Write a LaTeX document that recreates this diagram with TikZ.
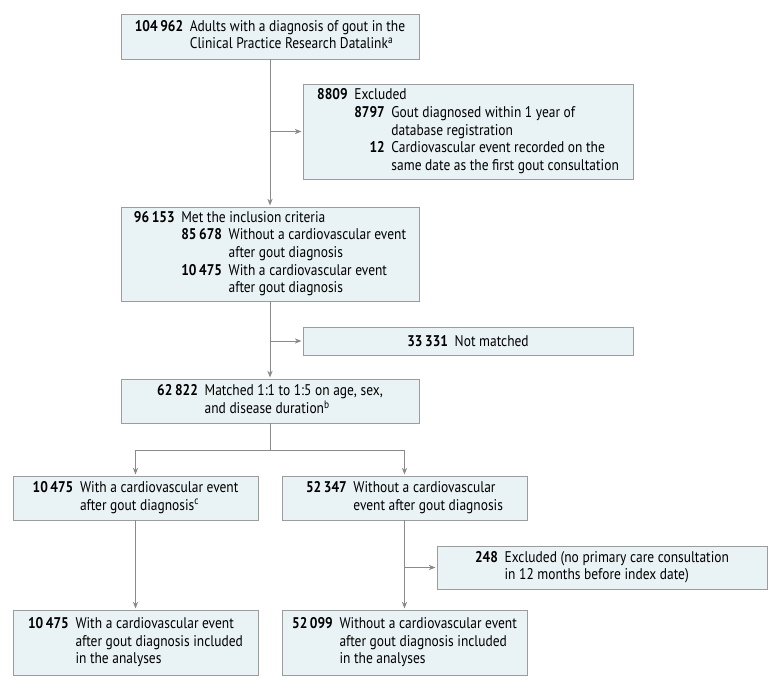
\documentclass[tikz,border=0pt]{standalone}
\usepackage{fontspec}
\setmainfont{PT Sans}[FakeStretch=0.87]
\usepackage{tikz}
\usetikzlibrary{arrows.meta}
\definecolor{boxfill}{HTML}{E9F2F4}
\definecolor{boxline}{HTML}{9C9C9C}
\definecolor{flowline}{HTML}{8A8A8A}
\newcommand{\nb}[1]{\textbf{#1}}
\newcommand{\gap}{@{\hspace{5pt}}}

\begin{document}
\begin{tikzpicture}[x=0.75pt, y=-0.75pt,
  every node/.style = {shape=rectangle,
    draw=boxline, fill=boxfill, align=center, inner sep=0pt,
    font=\fontsize{11.6}{13.2}\selectfont},
  mainbox/.style = {minimum width=223.5pt},
  sidebox/.style = {minimum width=247.5pt},
  armbox/.style = {minimum width=183.75pt},
  flow/.style = {draw=flowline, line width=0.75pt},
  flowarrow/.style = {flow, -{Stealth[length=5pt,width=4pt]}, shorten >=1pt}]
  \useasboundingbox (0,0) rectangle (780,688);

  % main column
  \node[mainbox, minimum height=33.75pt] (adults) at (270,36.5)
    {\begin{tabular}{@{}r\gap l@{}}
      \nb{104\,962} & Adults with a diagnosis of gout in the\\
      & Clinical Practice Research Datalink\textsuperscript{a}
    \end{tabular}};
  \node[sidebox, minimum height=71.25pt] (excl) at (468,131.5)
    {\begin{tabular}{@{}r\gap r\gap l@{}}
      \nb{8809} & \multicolumn{2}{@{}l@{}}{Excluded}\\
      & \nb{8797} & Gout diagnosed within 1 year of\\
      & & database registration\\
      & \nb{12} & Cardiovascular event recorded on the\\
      & & same date as the first gout consultation
    \end{tabular}};
  \node[mainbox, minimum height=70.5pt] (incl) at (270,254)
    {\begin{tabular}{@{}r\gap r\gap l@{}}
      \nb{96\,153} & \multicolumn{2}{@{}l@{}}{Met the inclusion criteria}\\
      & \nb{85\,678} & Without a cardiovascular event\\
      & & after gout diagnosis\\
      & \nb{10\,475} & With a cardiovascular event\\
      & & after gout diagnosis
    \end{tabular}};
  \node[sidebox, minimum height=21pt] (notmatched) at (468,341)
    {\nb{33\,331}\hspace{5pt}Not matched};
  \node[mainbox, minimum height=33pt] (matched) at (270,401)
    {\begin{tabular}{@{}r\gap l@{}}
      \nb{62\,822} & Matched 1:1 to 1:5 on age, sex,\\
      & and disease duration\textsuperscript{b}
    \end{tabular}};

  % two arms
  \node[armbox, minimum height=33pt] (withcv) at (135.5,498)
    {\begin{tabular}{@{}r\gap l@{}}
      \nb{10\,475} & With a cardiovascular event\\
      & after gout diagnosis\textsuperscript{c}
    \end{tabular}};
  \node[armbox, minimum height=33pt] (nocv) at (404.5,498)
    {\begin{tabular}{@{}r\gap l@{}}
      \nb{52\,347} & Without a cardiovascular\\
      & event after gout diagnosis
    \end{tabular}};
  \node[sidebox, minimum height=32.25pt] (nocare) at (602,567.5)
    {\begin{tabular}{@{}r\gap l@{}}
      \nb{248} & Excluded (no primary care consultation\\
      & in 12 months before index date)
    \end{tabular}};
  \node[armbox, minimum height=48.75pt] (withfinal) at (135.5,642.5)
    {\begin{tabular}{@{}r\gap l@{}}
      \nb{10\,475} & With a cardiovascular event\\
      & after gout diagnosis included\\
      & in the analyses
    \end{tabular}};
  \node[armbox, minimum height=48.75pt] (nofinal) at (404.5,642.5)
    {\begin{tabular}{@{}r\gap l@{}}
      \nb{52\,099} & Without a cardiovascular event\\
      & after gout diagnosis included\\
      & in the analyses
    \end{tabular}};

  % connectors
  \draw[flowarrow] (adults) -- (incl);
  \draw[flowarrow] (adults.south |- excl.west) -- (excl.west);
  \draw[flowarrow] (incl) -- (matched);
  \draw[flowarrow] (incl.south |- notmatched.west) -- (notmatched.west);
  \coordinate (split) at (270,450);
  \draw[flow] (matched.south) -- (split);
  \draw[flowarrow] (split) -| (withcv.north);
  \draw[flowarrow] (split) -| (nocv.north);
  \draw[flowarrow] (withcv) -- (withfinal);
  \draw[flowarrow] (nocv) -- (nofinal);
  \draw[flowarrow] (nocv.south |- nocare.west) -- (nocare.west);
\end{tikzpicture}
\end{document}
